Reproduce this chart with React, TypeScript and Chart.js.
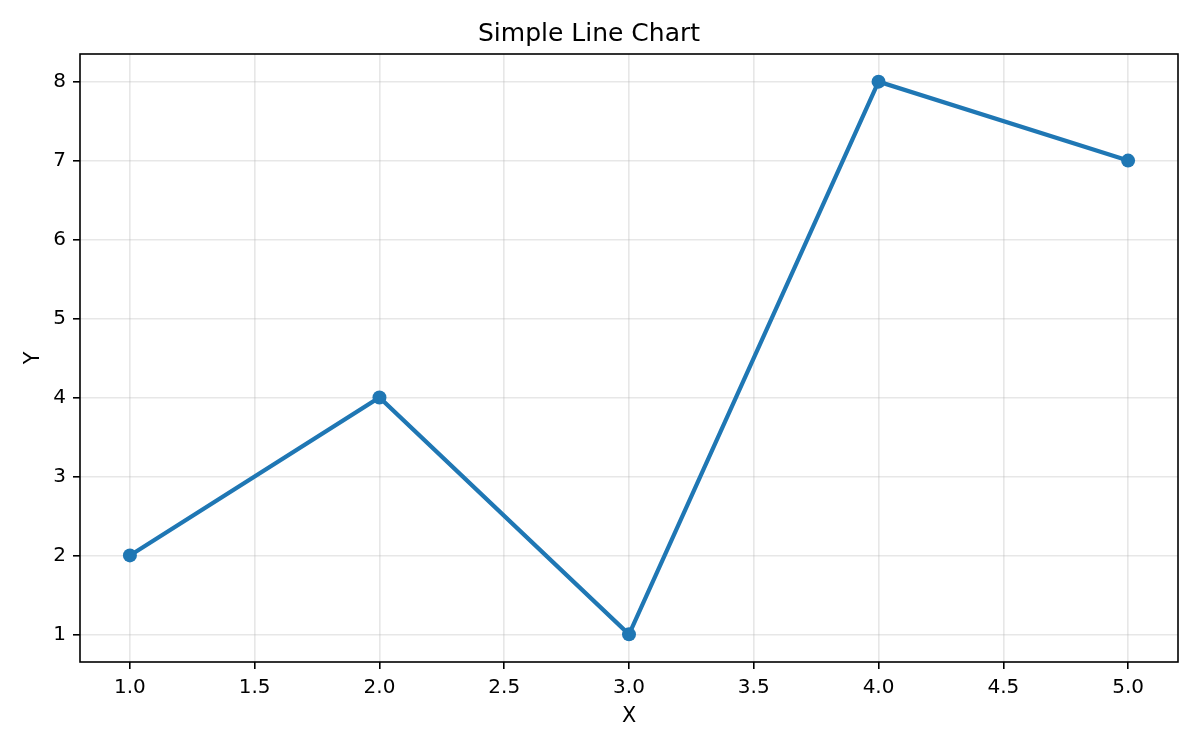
import React, { useEffect, useRef } from "react";
import { Chart, registerables } from "chart.js";

Chart.register(...registerables);

const xValues = [1, 2, 3, 4, 5];
const yValues = [2, 4, 1, 8, 7];
const xTicks = [1.0, 1.5, 2.0, 2.5, 3.0, 3.5, 4.0, 4.5, 5.0];
const yTicks = [1, 2, 3, 4, 5, 6, 7, 8];
const titleText = "Simple Line Chart";
const xLabel = "X";
const yLabel = "Y";

const frame = {
  id: "frame",
  afterDraw(chart: any) {
    const { ctx, chartArea } = chart;
    ctx.save();
    ctx.strokeStyle = "#000";
    ctx.lineWidth = 1.6;
    ctx.strokeRect(chartArea.left, chartArea.top, chartArea.right - chartArea.left, chartArea.bottom - chartArea.top);
    ctx.restore();
  },
};

export default function App() {
  const ref = useRef<HTMLCanvasElement | null>(null);
  useEffect(() => {
    if (!ref.current) return;
    Chart.defaults.font.family = "DejaVu Sans";
    Chart.defaults.color = "#000";
    const chart = new Chart(ref.current, {
      type: "line",
      data: {
        datasets: [
          {
            data: xValues.map((x, i) => ({ x, y: yValues[i] })),
            borderColor: "#1f77b4",
            backgroundColor: "#1f77b4",
            borderWidth: 4.2,
            pointRadius: 7,
            pointBorderWidth: 0,
            pointHoverRadius: 7,
            tension: 0,
          },
        ],
      },
      options: {
        animation: false,
        responsive: true,
        maintainAspectRatio: false,
        layout: { padding: { left: 0, right: 22, top: 0, bottom: 0 } },
        plugins: {
          legend: { display: false },
          tooltip: { enabled: false },
          title: {
            display: true,
            text: titleText,
            font: { size: 25, weight: "normal" },
            color: "#000",
            padding: { top: 19, bottom: 5 },
          },
        },
        scales: {
          x: {
            type: "linear",
            min: 0.8,
            max: 5.2,
            afterBuildTicks: (s: any) => {
              s.ticks = xTicks.map((v) => ({ value: v }));
            },
            afterFit: (s: any) => {
              s.height = 88;
            },
            ticks: {
              font: { size: 20 },
              color: "#000",
              padding: 7,
              maxRotation: 0,
              autoSkip: false,
              callback: (v: any) => Number(v).toFixed(1),
            },
            grid: {
              color: "rgba(176,176,176,0.3)",
              lineWidth: 1.6,
              tickColor: "#000",
              tickLength: 7,
              tickWidth: 1.6,
            },
            border: { display: false },
            title: {
              display: true,
              text: xLabel,
              font: { size: 20.8 },
              color: "#000",
              padding: { top: 20.5, bottom: 20.5 },
            },
          },
          y: {
            type: "linear",
            min: 0.65,
            max: 8.35,
            afterBuildTicks: (s: any) => {
              s.ticks = yTicks.map((v) => ({ value: v }));
            },
            afterFit: (s: any) => {
              s.width = 80;
            },
            ticks: {
              font: { size: 20 },
              color: "#000",
              padding: 7,
              autoSkip: false,
              callback: (v: any) => String(v),
            },
            grid: {
              color: "rgba(176,176,176,0.3)",
              lineWidth: 1.6,
              tickColor: "#000",
              tickLength: 7,
              tickWidth: 1.6,
            },
            border: { display: false },
            title: {
              display: true,
              text: yLabel,
              font: { size: 20.8 },
              color: "#000",
              padding: { top: 21, bottom: 21 },
            },
          },
        },
      },
      plugins: [frame],
    });
    return () => chart.destroy();
  }, []);
  return (
    <div style={{ position: "absolute", left: 0, top: 0, width: 1200, height: 750, background: "#fff" }}>
      <canvas ref={ref} />
    </div>
  );
}
